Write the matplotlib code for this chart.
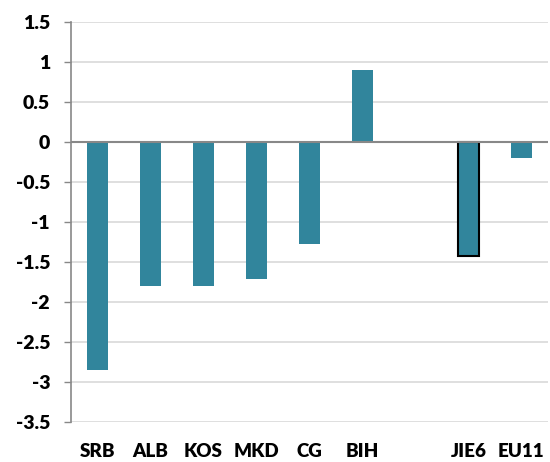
import matplotlib
matplotlib.use("Agg")
import matplotlib.pyplot as plt

categories = ["SRB", "ALB", "KOS", "MKD", "CG", "BIH", "JIE6", "EU11"]
positions = [0, 1, 2, 3, 4, 5, 7, 8]
values = [-2.85, -1.80, -1.80, -1.71, -1.28, 0.90, -1.43, -0.20]
yticks = [-3.5, -3, -2.5, -2, -1.5, -1, -0.5, 0, 0.5, 1, 1.5]
ytick_labels = ["-3.5", "-3", "-2.5", "-2", "-1.5", "-1", "-0.5", "0", "0.5", "1", "1.5"]

plt.rcParams['font.family'] = ['Lato', 'DejaVu Sans']

fig = plt.figure(figsize=(5.5, 4.62), dpi=100)
ax = fig.add_axes([0.129, 0.0866, 0.867, 0.866])

color = "#31859C"
edges = ["none"] * len(values)
lws = [0] * len(values)
edges[6] = "black"
lws[6] = 1.5
for p, v, ec, lw in zip(positions, values, edges, lws):
    ax.bar(p, v, width=0.4, color=color, edgecolor=ec, linewidth=lw, zorder=3)

ax.set_xlim(-0.5, 8.5)
ax.set_ylim(-3.5, 1.5)
ax.set_yticks(yticks)
ax.set_yticklabels(ytick_labels, fontsize=14, fontweight='heavy')
ax.set_xticks(positions)
ax.set_xticklabels(categories, fontsize=13.5, fontweight='heavy')
ax.tick_params(axis='x', length=0, pad=15)
ax.tick_params(axis='y', length=5, color='#888888', width=1, pad=10)

ax.yaxis.grid(True, color='#d9d9d9', linewidth=1.2, zorder=0)
ax.set_axisbelow(True)
ax.axhline(0, color='#888888', linewidth=1.5, zorder=4)

for s in ['top', 'right', 'bottom']:
    ax.spines[s].set_visible(False)
ax.spines['left'].set_color('#888888')
ax.spines['left'].set_linewidth(1.2)

fig.savefig("out.png", dpi=100)
